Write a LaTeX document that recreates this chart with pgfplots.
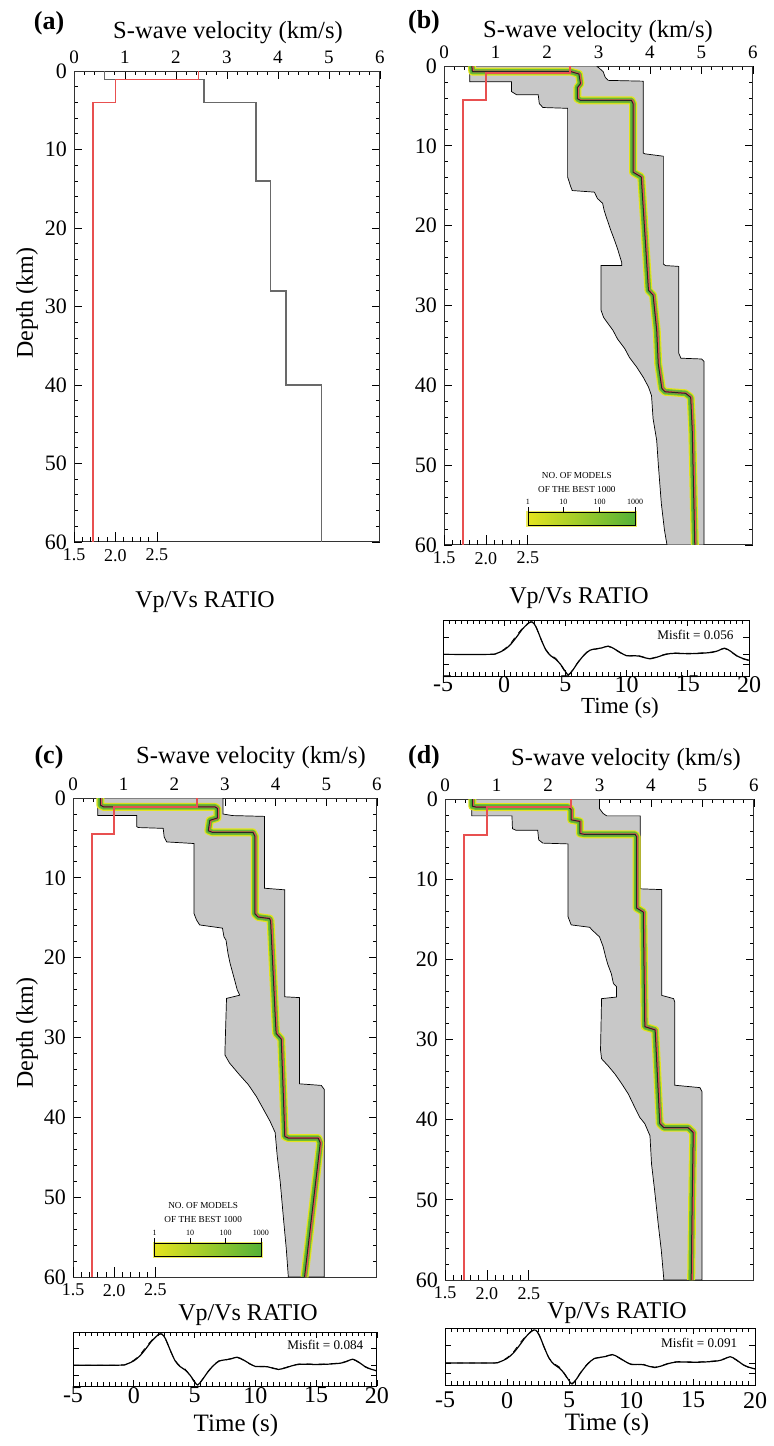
\documentclass[border=0pt]{standalone}
\usepackage{pgfplots}
\pgfplotsset{compat=1.18}
\usepackage{pgfplotstable}
\usepackage{fontspec}
\setmainfont{Liberation Serif}

\definecolor{envgray}{RGB}{200,200,200}
\definecolor{bandyel}{RGB}{228,228,30}
\definecolor{bandgrn}{RGB}{85,178,55}
\definecolor{truered}{RGB}{232,80,80}
\definecolor{modgray}{RGB}{105,105,105}

\newcommand{\fs}[1]{\fontsize{#1}{#1}\selectfont}

\pgfplotsset{
  velax/.style={
    scale only axis, anchor=north west,
    xmin=0, xmax=6, ymin=0, ymax=60, y dir=reverse,
    xtick={0,...,6}, minor x tick num=4,
    ytick={0,10,...,60}, minor y tick num=4,
    xtick pos=right, xticklabel pos=right,
    tick align=inside, major tick length=4pt, minor tick length=2.2pt,
    tick style={black, line width=0.4pt},
    axis line style={black!80, line width=0.5pt},
    xticklabel style={font=\fs{9.5}},
    yticklabel style={font=\fs{11}},
    /pgf/number format/assume math mode=true,
  },
  ratax/.style={
    scale only axis, anchor=north west,
    xmin=1.5, xmax=5.1877, ymin=0, ymax=60, y dir=reverse,
    axis line style={draw=none}, ytick=\empty,
    xtick={1.5,2,2.5}, xticklabels={1.5,2.0,2.5},
    minor xtick={1.6,1.7,1.8,1.9,2.1,2.2,2.3,2.4},
    xtick pos=left, xticklabel pos=left,
    tick align=inside, major tick length=5pt, minor tick length=2.5pt,
    tick style={black, line width=0.4pt},
    xticklabel style={font=\fs{9}},
  },
  wavax/.style={
    scale only axis, anchor=north west,
    xmin=-5, xmax=20, ymin=-0.63, ymax=1.0,
    xtick={-5,0,...,20}, minor x tick num=9,
    ytick={-0.3,0,0.5}, yticklabels={},
    tick align=inside, major tick length=3pt, minor tick length=1.8pt,
    tick style={black, line width=0.4pt},
    axis line style={black, line width=0.5pt},
    xticklabel style={font=\fs{12}},
    /pgf/number format/assume math mode=true,
  },
  band/.style={line join=round},
  ratline/.style={truered, line width=0.85pt},
}

% (a) reference model
\pgfplotstableread{
v d
0.60 0
0.60 1.1
2.55 1.1
2.55 4.0
3.57 4.0
3.57 14
3.85 14
3.85 28
4.16 28
4.16 40
4.85 40
4.85 60
}\truea
\pgfplotstableread{
r d
3.0 0
3.0 1.1
2.0 1.1
2.0 4.0
1.73 4.0
1.73 60
}\ratioa

% (b)
\pgfplotstableread{
v d
0.50 0
0.50 1.97
1.31 1.97
1.31 3.2
1.41 3.6
1.83 3.6
1.85 4.7
1.92 5.2
2.40 5.3
2.40 13.9
2.46 15.1
2.49 15.6
2.92 15.8
2.98 16.6
3.08 17.2
3.11 18.1
3.15 18.9
3.24 20.6
3.31 21.8
3.37 22.9
3.45 24.6
3.45 25.0
3.05 25.0
3.05 30.6
3.10 31.5
3.20 32.4
3.28 33.1
3.37 34.2
3.51 35.4
3.60 36.5
3.74 37.7
3.87 39.0
3.97 40.2
4.03 41.3
4.06 44.2
4.13 46.9
4.16 49.8
4.22 54.8
4.28 58.1
4.33 60
5.05 60
5.05 37.0
5.00 36.7
4.60 36.6
4.56 36.0
4.56 25.1
4.30 25.0
4.26 24.8
4.26 11.3
3.90 11.0
3.87 10.9
3.87 1.9
3.19 1.8
3.13 1.4
3.09 0.7
3.02 0.3
2.96 0
0.50 0
}\envb
\pgfplotstableread{
v d
0.54 0
0.55 0.7
2.46 0.7
2.62 1.0
2.65 2.2
2.59 2.7
2.59 4.1
2.65 4.3
3.64 4.3
3.67 4.7
3.67 13.3
3.83 13.9
3.97 28.1
4.06 28.7
4.13 33.1
4.16 37.3
4.23 40.4
4.29 40.8
4.69 41.0
4.79 41.5
4.82 45.6
4.87 60
}\bestb
\pgfplotstableread{
r d
3.0 0
3.0 0.9
2.0 0.9
2.0 4.3
1.73 4.3
1.73 60
}\ratiob

% (c)
\pgfplotstableread{
v d
0.49 0
0.49 2.2
1.26 2.2
1.26 3.6
1.29 3.7
1.78 3.8
1.80 4.9
1.85 5.5
2.39 5.7
2.39 14.5
2.44 15.3
2.50 15.9
2.95 16.3
2.98 17.4
3.02 17.8
3.06 19.5
3.10 20.7
3.19 22.8
3.24 24.0
3.29 24.7
3.03 25.1
3.00 31.5
3.00 32.2
3.09 33.2
3.29 34.7
3.46 35.9
3.62 37.4
3.76 39.0
3.89 40.5
3.99 41.9
4.03 44.8
4.09 48.1
4.16 53.1
4.21 56.5
4.25 60
4.96 60
4.96 36.5
4.90 36.0
4.47 35.8
4.47 25.0
4.18 24.9
4.18 11.5
3.78 11.3
3.78 2.3
3.15 2.2
2.96 2.0
2.96 0
0.49 0
}\envc
\pgfplotstableread{
v d
0.54 0
0.54 0.9
0.60 1.1
2.80 1.1
2.85 1.3
2.85 2.5
2.70 2.8
2.67 4.1
2.75 4.3
3.55 4.3
3.59 4.8
3.59 14.5
3.65 14.9
3.88 15.1
3.90 15.4
4.00 28.5
4.01 29.5
4.11 30.2
4.15 37.0
4.18 42.4
4.25 42.6
4.84 42.6
4.88 43.2
4.57 60
}\bestc
\pgfplotstableread{
r d
3.0 0
3.0 1.1
2.0 1.1
2.0 4.5
1.73 4.5
1.73 60
}\ratioc

% (d)
\pgfplotstableread{
v d
0.52 0
0.52 2.1
1.30 2.1
1.31 3.7
1.38 3.9
1.80 3.9
1.82 5.1
1.90 5.5
2.39 5.6
2.39 14.7
2.45 15.7
2.81 16.0
2.85 16.3
3.00 17.2
3.07 18.4
3.12 19.7
3.16 20.6
3.23 21.8
3.27 23.0
3.33 23.4
3.33 24.7
3.04 24.9
3.02 31.3
3.04 32.4
3.17 33.3
3.30 34.3
3.43 35.5
3.56 36.8
3.68 38.4
3.78 39.7
3.88 40.5
3.98 42.0
4.01 45.5
4.07 48.8
4.14 53.0
4.20 56.3
4.25 60
4.99 60
4.99 36.5
4.95 36.0
4.46 35.7
4.46 25.3
4.44 24.9
4.21 24.5
4.21 11.3
3.79 11.2
3.79 2.1
3.14 2.1
3.07 1.8
3.00 1.2
3.00 0
0.52 0
}\envd
\pgfplotstableread{
v d
0.53 0
0.53 0.9
0.60 1.0
2.39 1.0
2.45 1.3
2.45 2.6
2.62 2.8
2.62 4.3
2.70 4.4
3.69 4.4
3.72 4.7
3.72 13.6
3.85 14.1
3.88 28.4
4.08 28.8
4.10 31.3
4.17 40.5
4.25 41.0
4.72 41.0
4.82 41.6
4.80 50
4.78 60
}\bestd
\pgfplotstableread{
r d
3.0 0
3.0 1.0
2.0 1.0
2.0 4.5
1.73 4.5
1.73 60
}\ratiod

% waveforms (synthetic solid, observed dashed)
\pgfplotstableread{
t a
-5 0
-1.2 0
-0.6 0.03
0 0.13
0.5 0.28
1.0 0.50
1.5 0.74
2.0 0.91
2.3 0.94
2.6 0.80
3.0 0.45
3.4 0.13
3.8 -0.04
4.2 -0.14
4.6 -0.29
5.0 -0.50
5.25 -0.60
5.6 -0.46
6.0 -0.25
6.5 -0.03
7.0 0.12
7.5 0.16
8.0 0.19
8.5 0.24
9.0 0.16
9.5 0.05
10.0 -0.04
10.5 -0.04
11.0 -0.05
11.5 -0.10
11.9 -0.13
12.5 -0.08
13.0 -0.02
13.5 0.02
14.0 0.03
15.0 0.02
16.0 0.03
17.0 0.06
17.5 0.11
18.0 0.18
18.5 0.09
19.0 -0.04
19.5 -0.12
20.0 -0.17
}\wsyn
\pgfplotstableread{
t a
-5 0
-1.2 0
-0.6 0.03
0 0.15
0.5 0.31
1.0 0.55
1.5 0.76
2.0 0.92
2.3 0.94
2.6 0.79
3.0 0.44
3.4 0.14
3.8 -0.02
4.2 -0.11
4.6 -0.30
5.0 -0.52
5.25 -0.59
5.6 -0.45
6.0 -0.24
6.5 -0.02
7.0 0.13
7.5 0.15
8.0 0.20
8.5 0.23
9.0 0.15
9.5 0.04
10.0 -0.03
10.5 -0.05
11.0 -0.04
11.5 -0.09
11.9 -0.12
12.5 -0.07
13.0 -0.01
13.5 0.03
14.0 0.04
15.0 0.03
16.0 0.04
17.0 0.07
17.5 0.12
18.0 0.17
18.5 0.08
19.0 -0.05
19.5 -0.13
20.0 -0.18
}\wobs

\newcommand{\bestband}[1]{%
  \addplot[band, bandyel, line width=4pt] table {#1};
  \addplot[band, bandgrn!80!bandyel, line width=2.8pt] table {#1};
  \addplot[band, bandgrn, line width=1.8pt] table {#1};
  \addplot[band, truered, line width=0.9pt, xshift=0.4pt] table {#1};
  \addplot[band, black!85, line width=0.5pt] table {#1};
}
% colour bar: #1 left, #2 right, #3 top depth, #4,#5 inner tick positions
\newcommand{\cbar}[5]{%
  \draw[bandyel!70, line width=1.6pt] (axis cs:#1,#3) rectangle (axis cs:#2,#3+1.65);
  \shade[left color=bandyel, right color=bandgrn] (axis cs:#1,#3) rectangle (axis cs:#2,#3+1.65);
  \draw[black, line width=0.4pt] (axis cs:#1,#3) rectangle (axis cs:#2,#3+1.65);
  \draw[black, line width=0.3pt] (axis cs:#1,#3) -- (axis cs:#1,#3-0.65);
  \draw[black, line width=0.3pt] (axis cs:#4,#3) -- (axis cs:#4,#3-0.65);
  \draw[black, line width=0.3pt] (axis cs:#5,#3) -- (axis cs:#5,#3-0.65);
  \draw[black, line width=0.3pt] (axis cs:#2,#3) -- (axis cs:#2,#3-0.65);
  \node[font=\fs{4}] at (axis cs:#1,#3-1.35) {1};
  \node[font=\fs{4}] at (axis cs:#4,#3-1.35) {10};
  \node[font=\fs{4}] at (axis cs:#5,#3-1.35) {100};
  \node[font=\fs{4}] at (axis cs:#2,#3-1.35) {1000};
}

\begin{document}
\begin{tikzpicture}
\path (0,0) rectangle (382pt,-723pt);

% ---------------- (a)
\begin{axis}[velax, at={(37pt,-35.5pt)}, width=153pt, height=235.5pt]
  \addplot[modgray, line width=0.7pt] table {\truea};
\end{axis}
\begin{axis}[ratax, at={(37pt,-35.5pt)}, width=153pt, height=235.5pt]
  \addplot[ratline] table {\ratioa};
\end{axis}

% ---------------- (b)
\begin{axis}[velax, at={(222pt,-33pt)}, width=154.5pt, height=239.5pt]
  \addplot[fill=envgray, draw=black, line width=0.35pt] table {\envb};
  \bestband{\bestb}
  \cbar{1.63}{3.71}{55.95}{2.32}{3.02}
  \node[font=\fs{4.6}] at (axis cs:2.58,51.3) {NO. OF MODELS};
  \node[font=\fs{4.6}] at (axis cs:2.58,53.0) {OF THE BEST 1000};
\end{axis}
\begin{axis}[ratax, at={(222pt,-33pt)}, width=154.5pt, height=239.5pt]
  \addplot[ratline] table {\ratiob};
\end{axis}
\begin{axis}[wavax, at={(221.5pt,-310pt)}, width=153pt, height=28pt,
    xticklabel style={yshift=3.5pt}]
  \addplot[black, dashed, line width=0.4pt, smooth] table {\wobs};
  \addplot[black, line width=0.6pt, smooth] table {\wsyn};
  \node[font=\fs{6.6}] at (rel axis cs:0.825,0.73) {Misfit = 0.056};
\end{axis}

% ---------------- (c)
\begin{axis}[velax, at={(36.5pt,-399pt)}, width=152pt, height=239.5pt]
  \addplot[fill=envgray, draw=black, line width=0.35pt] table {\envc};
  \bestband{\bestc}
  \cbar{1.61}{3.71}{55.8}{2.31}{3.01}
  \node[font=\fs{4.6}] at (axis cs:2.57,51.1) {NO. OF MODELS};
  \node[font=\fs{4.6}] at (axis cs:2.57,52.8) {OF THE BEST 1000};
\end{axis}
\begin{axis}[ratax, at={(36.5pt,-399pt)}, width=152pt, height=239.5pt]
  \addplot[ratline] table {\ratioc};
\end{axis}
\begin{axis}[wavax, at={(36.5pt,-666pt)}, width=152pt, height=27pt,
    xticklabel style={yshift=3pt}]
  \addplot[black, dashed, line width=0.4pt, smooth] table {\wobs};
  \addplot[black, line width=0.6pt, smooth] table {\wsyn};
  \node[font=\fs{6.6}] at (rel axis cs:0.83,0.76) {Misfit = 0.084};
\end{axis}

% ---------------- (d)
\begin{axis}[velax, at={(222.5pt,-399.5pt)}, width=154.5pt, height=240.5pt]
  \addplot[fill=envgray, draw=black, line width=0.35pt] table {\envd};
  \bestband{\bestd}
\end{axis}
\begin{axis}[ratax, at={(222.5pt,-399.5pt)}, width=154.5pt, height=240.5pt]
  \addplot[ratline] table {\ratiod};
\end{axis}
\begin{axis}[wavax, at={(222.5pt,-664pt)}, width=155pt, height=28.5pt,
    xticklabel style={yshift=0pt}]
  \addplot[black, dashed, line width=0.4pt, smooth] table {\wobs};
  \addplot[black, line width=0.6pt, smooth] table {\wsyn};
  \node[font=\fs{6.6}] at (rel axis cs:0.82,0.74) {Misfit = 0.091};
\end{axis}

% ---------------- texts
\node[font=\bfseries\fs{13}] at (24.5pt,-11.5pt) {(a)};
\node[font=\bfseries\fs{13}] at (212pt,-11pt) {(b)};
\node[font=\bfseries\fs{13}] at (24.5pt,-378.5pt) {(c)};
\node[font=\bfseries\fs{13}] at (212pt,-378.5pt) {(d)};
\node[font=\fs{12.3}] at (114pt,-16.5pt) {S-wave velocity (km/s)};
\node[font=\fs{12.3}] at (299pt,-16pt) {S-wave velocity (km/s)};
\node[font=\fs{12.3}] at (125.5pt,-379pt) {S-wave velocity (km/s)};
\node[font=\fs{12.3}] at (313pt,-380pt) {S-wave velocity (km/s)};
\node[font=\fs{12}] at (102.5pt,-301pt) {Vp/Vs RATIO};
\node[font=\fs{12}] at (289.5pt,-299pt) {Vp/Vs RATIO};
\node[font=\fs{12}] at (124pt,-657.5pt) {Vp/Vs RATIO};
\node[font=\fs{12}] at (308.5pt,-656.5pt) {Vp/Vs RATIO};
\node[font=\fs{11.5}] at (310pt,-354pt) {Time (s)};
\node[font=\fs{12.5}] at (118pt,-712.5pt) {Time (s)};
\node[font=\fs{12.5}] at (303.5pt,-712pt) {Time (s)};
\node[font=\fs{12}, rotate=90] at (13.5pt,-151.5pt) {Depth (km)};
\node[font=\fs{12}, rotate=90] at (13.5pt,-516.5pt) {Depth (km)};
\end{tikzpicture}
\end{document}
